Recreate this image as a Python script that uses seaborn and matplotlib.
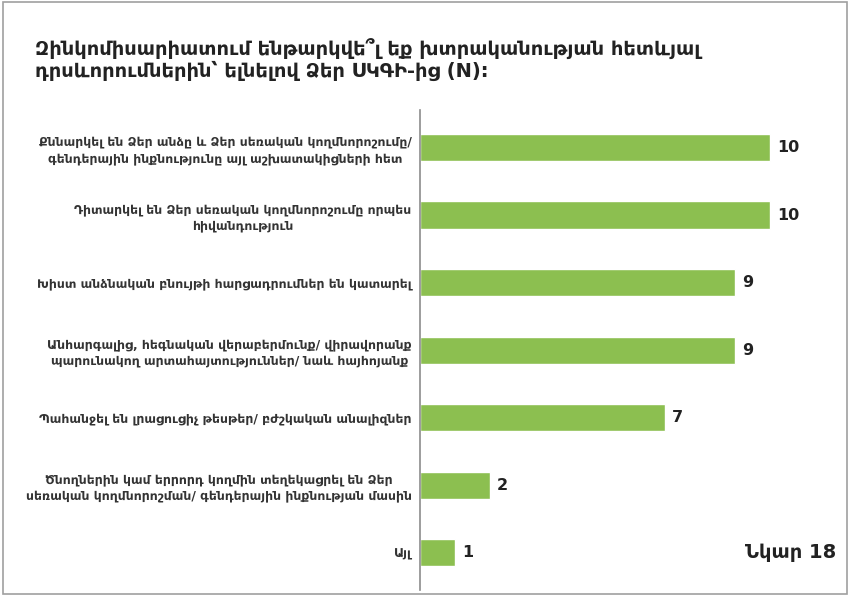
import pandas as pd
import matplotlib.pyplot as plt
import seaborn as sns
from matplotlib.patches import Rectangle

# Data
categories = [
    "Քննարկել են Ձեր անձը և Ձեր սեռական կողմնորոշումը/\nգենդերային ինքնությունը այլ աշխատակիցների հետ",
    "Դիտարկել են Ձեր սեռական կողմնորոշումը որպես\nհիվանդություն",
    "Խիստ անձնական բնույթի հարցադրումներ են կատարել",
    "Անհարգալից, հեգնական վերաբերմունք/ վիրավորանք\nպարունակող արտահայտություններ/ նաև հայհոյանք",
    "Պահանջել են լրացուցիչ թեսթեր/ բժշկական անալիզներ",
    "Ծնողներին կամ երրորդ կողմին տեղեկացրել են Ձեր\nսեռական կողմնորոշման/ գենդերային ինքնության մասին",
    "Այլ",
]
counts = [10, 10, 9, 9, 7, 2, 1]
title = "Զինկոմիսարիատում ենթարկվե՞լ եք խտրականության հետևյալ\nդրսևորումներին՝ ելնելով Ձեր ՍԿԳԻ-ից (N):"
figure_label = "Նկար 18"

df = pd.DataFrame({'Category': categories, 'Count': counts})

sns.set_style('white')
plt.rcParams['font.family'] = ['DejaVu Sans']

fig = plt.figure(figsize=(8.5, 5.96), dpi=100)
ax = fig.add_axes([0.494, 0.01, 0.494, 0.805])

sns.barplot(x='Count', y='Category', data=df, orient='h', color='#8cbf50',
            saturation=1, width=0.4, ax=ax)

# value labels
for i, v in enumerate(df['Count']):
    ax.text(v + 0.2, i, f"{v}", va='center', ha='left',
            fontsize=11.5, fontweight='bold', color='#222222')

ax.set_xlim(0, 12)
ax.set_ylim(6.55, -0.55)
ax.set_xlabel('')
ax.set_ylabel('')
ax.set_xticks([])
for s in ['top', 'right', 'bottom']:
    ax.spines[s].set_visible(False)
ax.spines['left'].set_color('#8c8c8c')
ax.spines['left'].set_linewidth(1.2)
ax.tick_params(axis='y', length=0, pad=6)
for lbl in ax.get_yticklabels():
    lbl.set_fontsize(8.9)
    lbl.set_fontweight('bold')
    lbl.set_color('#333333')
    lbl.set_multialignment('center')
    lbl.set_linespacing(1.3)

fig.text(0.041, 0.9, title, fontsize=14, fontweight='bold',
         color='#222222', ha='left', va='center', linespacing=1.05)
fig.text(0.93, 0.073, figure_label, fontsize=14, fontweight='bold',
         color='#222222', ha='center', va='center')

# outer frame
fig.patches.append(Rectangle((0.004, 0.004), 0.992, 0.992, transform=fig.transFigure,
                             fill=False, edgecolor='#a0a0a0', linewidth=1.2))

plt.savefig('out.png', dpi=100)
